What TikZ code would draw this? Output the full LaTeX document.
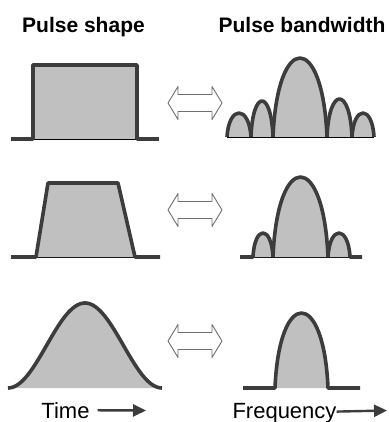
\documentclass[tikz,border=0pt]{standalone}
\usepackage{fontspec}
\setmainfont{Liberation Sans}
\usetikzlibrary{arrows.meta}
\definecolor{pulseFill}{HTML}{C0C0C0}
\definecolor{pulseEdge}{HTML}{3C3C3C}
\definecolor{pulseArrow}{HTML}{6E6E6E}

% one lobe of a spectrum: x0, x1, baseline, peak
\newcommand{\lobe}[4]{(#1,#3) .. controls ({#1+0.08*(#2-#1)},{#3+4/3*(#4-#3)}) and ({#2-0.08*(#2-#1)},{#3+4/3*(#4-#3)}) .. (#2,#3)}

\begin{document}
\begin{tikzpicture}[
  x=1pt, y=-1pt,
  pulse/.style={fill=pulseFill, draw=pulseEdge, line width=3.6pt, line join=round, line cap=butt},
  base/.style={draw=black, line width=0.8pt},
  swap/.pic={\filldraw[draw=pulseArrow, fill=white, line width=0.9pt, line join=round]
               (-27,0) -- (-17,-16.5) -- (-17,-8.5) -- (17,-8.5) -- (17,-16.5) -- (27,0)
               -- (17,16.5) -- (17,8.5) -- (-17,8.5) -- (-17,16.5) -- cycle;},
  title/.style={font=\fontsize{21}{25}\selectfont\bfseries, anchor=base, inner sep=0pt},
  axis/.style={font=\fontsize{22}{26}\selectfont, anchor=base, inner ysep=0pt},
  axarr/.style={-{Triangle[length=13pt, width=12pt]}, line width=2.4pt, draw=pulseEdge}
]
\useasboundingbox (0,0) rectangle (388,422);

% titles
\node[title] (shapehd) at (83.5,33) {Pulse shape};
\node[title] (bandhd) at (302,33) {Pulse bandwidth};

% rectangular pulse
\draw[base] (33,139) -- (137,139);
\filldraw[pulse] (11,139) -- (33,139) -- (33,65) -- (137,65) -- (137,139) -- (159,139);
\pic (swaprect) at (195,103) {swap};
\draw[base] (227,137) -- (374,137);
\filldraw[pulse] \lobe{227}{251}{137}{113};
\filldraw[pulse] \lobe{251}{273}{137}{101};
\filldraw[pulse] \lobe{273}{327}{137}{58};
\filldraw[pulse] \lobe{327}{352}{137}{99};
\filldraw[pulse] \lobe{352}{374}{137}{113};

% trapezoidal pulse
\draw[base] (36,257) -- (135,257);
\filldraw[pulse] (11,257) -- (36,257) -- (48,183) -- (118,183) -- (135,257) -- (160,257);
\pic (swaptrap) at (195,210) {swap};
\draw[base] (253,257) -- (350,257);
\filldraw[pulse] (240,257) -- \lobe{253}{273}{257}{233};
\filldraw[pulse] \lobe{273}{328}{257}{177};
\filldraw[pulse] \lobe{328}{350}{257}{233} -- (362,257);

% smooth (raised cosine) pulse
\filldraw[pulse] plot[domain=8:162, samples=70, smooth] (\x,{388-85*(1+cos(180*(\x-85)/77))/2});
\pic (swapgauss) at (195,341) {swap};
\filldraw[pulse] (243,388) -- \lobe{275}{328}{388}{313} -- (360,388);

% axes
\node[axis, inner xsep=8pt] (time) at (65.5,418) {Time};
\coordinate (timeend) at (146,410.5);
\draw[axarr] (time) -- (timeend);
\node[axis, inner xsep=0pt] (freq) at (284.5,418) {Frequency};
\coordinate (freqend) at (387,410.5);
\draw[axarr] (freq) -- (freqend);
\end{tikzpicture}
\end{document}
